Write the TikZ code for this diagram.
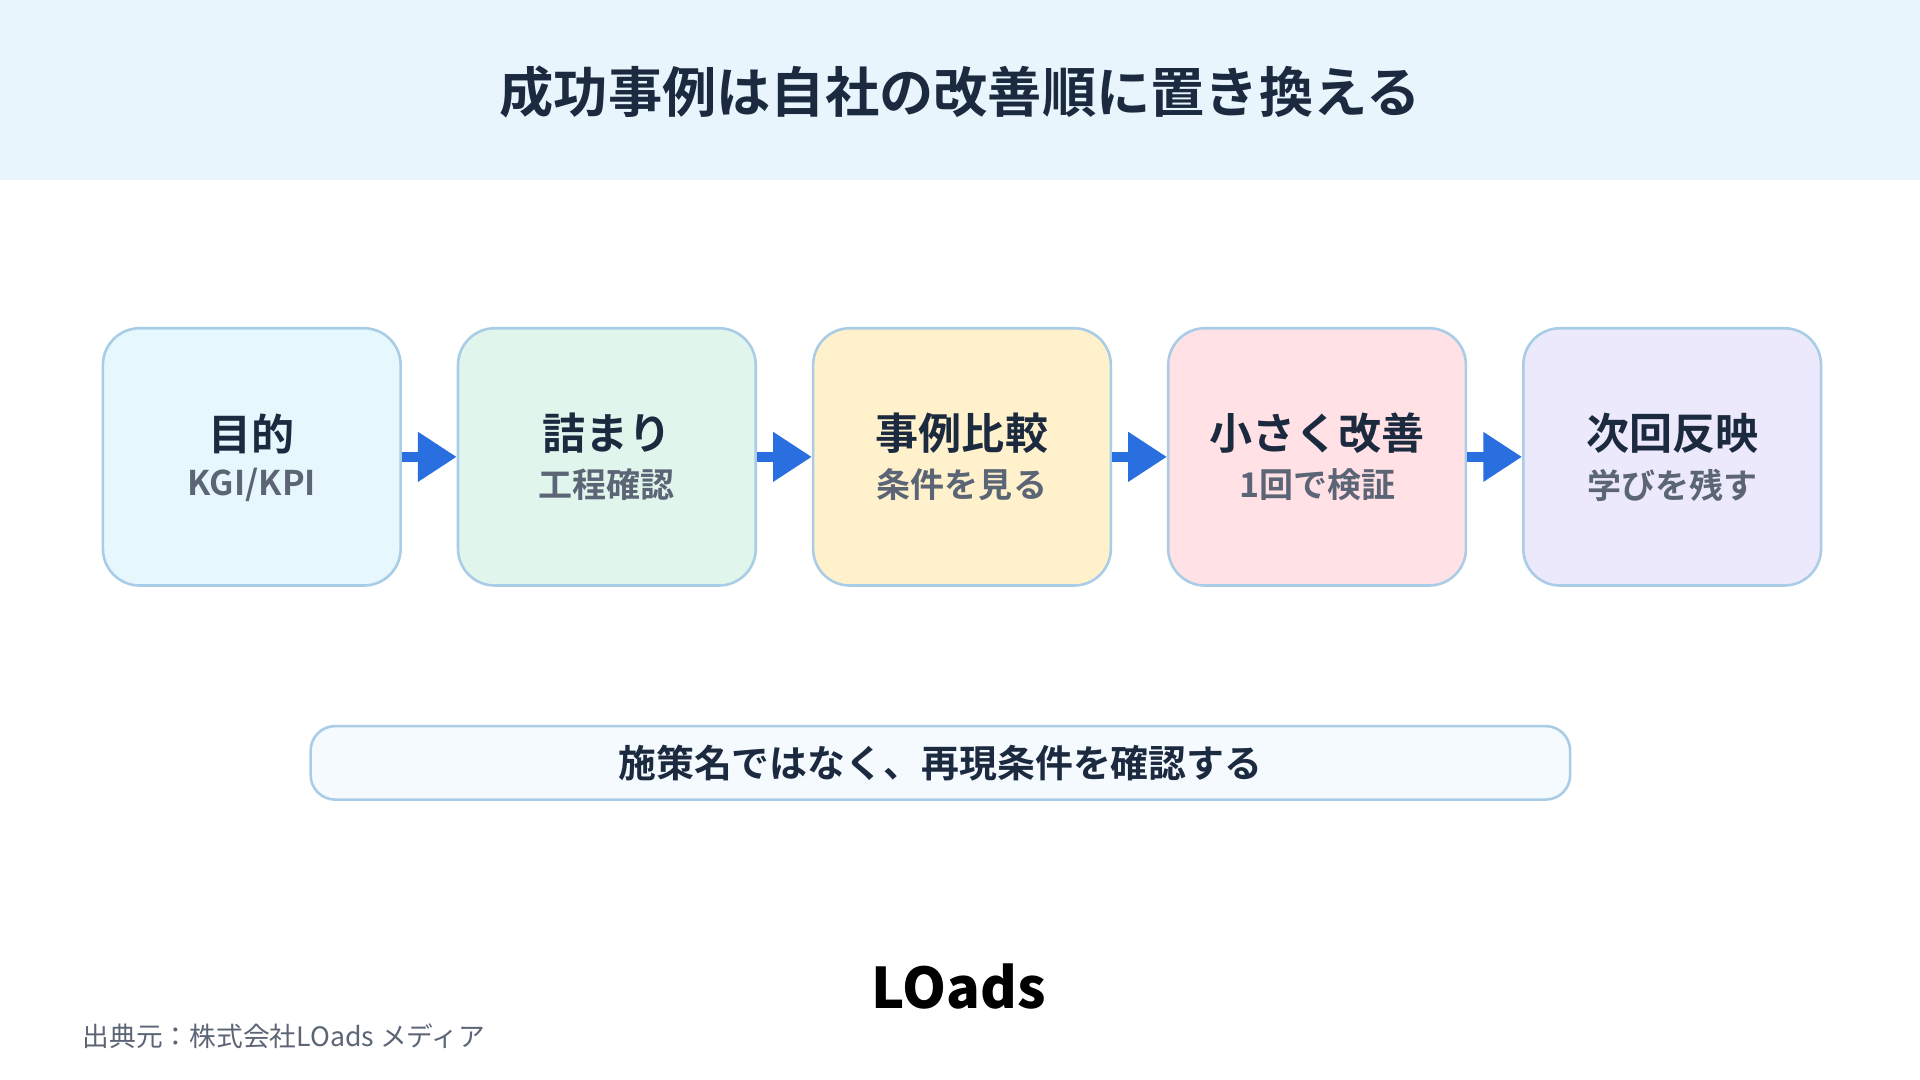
\documentclass[tikz,border=0pt]{standalone}
\usepackage{fontspec}
\setmainfont{Noto Sans CJK JP}
\newfontfamily\jpb{Noto Sans CJK JP}[UprightFont=* Bold]
\usetikzlibrary{arrows.meta}
\definecolor{navy}{HTML}{1C2A40}
\definecolor{subg}{HTML}{5B6575}
\definecolor{bord}{HTML}{A9CDE6}
\definecolor{arr}{HTML}{2A6FE0}
\definecolor{band}{HTML}{E8F5FD}
\definecolor{notef}{HTML}{F5FAFE}
\definecolor{c1}{HTML}{E6F8FD}
\definecolor{c2}{HTML}{E0F5EC}
\definecolor{c3}{HTML}{FFF1CC}
\definecolor{c4}{HTML}{FFE1E6}
\definecolor{c5}{HTML}{EDE9FC}
\begin{document}
\begin{tikzpicture}[x=0.01cm,y=-0.01cm,
  stepbox/.style={draw=bord,line width=0.6pt,rounded corners=0.3cm,minimum width=2.43cm,minimum height=2.1cm,anchor=north west},
  mainlbl/.style={font=\jpb\fontsize{10pt}{11pt}\selectfont,text=navy},
  sublbl/.style={font=\jpb\fontsize{7.9pt}{9pt}\selectfont,text=subg},
  flow/.style={arr,line width=2.2pt,-{Triangle[length=9pt,width=11pt]}}]
\useasboundingbox (0,0) rectangle (1568,882);
\fill[white] (0,0) rectangle (1568,882);
\fill[band] (0,0) rectangle (1568,147);
\node[font=\jpb\fontsize{12.6pt}{14pt}\selectfont,text=navy] (title) at (784,75) {成功事例は自社の改善順に置き換える};
\foreach \i/\x/\m/\s in {1/83/目的/{KGI/KPI},2/373/詰まり/工程確認,3/663/事例比較/条件を見る,4/953/小さく改善/1回で検証,5/1243/次回反映/学びを残す}{
  \node[stepbox,fill=c\i] (b\i) at (\x,267) {};
  \node[mainlbl] (m\i) at ([yshift=0.19cm]b\i.center) {\m};
  \node[sublbl] (s\i) at ([yshift=-0.23cm]b\i.center) {\s};
}
\foreach \a/\b in {1/2,2/3,3/4,4/5}{\draw[flow] (b\a.east) -- (b\b.west);}
\node[draw=bord,line width=0.6pt,fill=notef,rounded corners=0.2cm,minimum width=10.28cm,minimum height=0.6cm] (note) at (768,623) {};
\node[font=\jpb\fontsize{8.8pt}{10pt}\selectfont,text=navy] (notet) at (note.center) {施策名ではなく、再現条件を確認する};
\node[font=\bfseries\fontsize{13pt}{14pt}\selectfont,text=black] (logo) at (783,806) {LOads};
\node[anchor=west,font=\fontsize{6.2pt}{7pt}\selectfont,text=subg,inner sep=0pt] (src) at (67,846) {出典元：株式会社LOads メディア};
\end{tikzpicture}
\end{document}
